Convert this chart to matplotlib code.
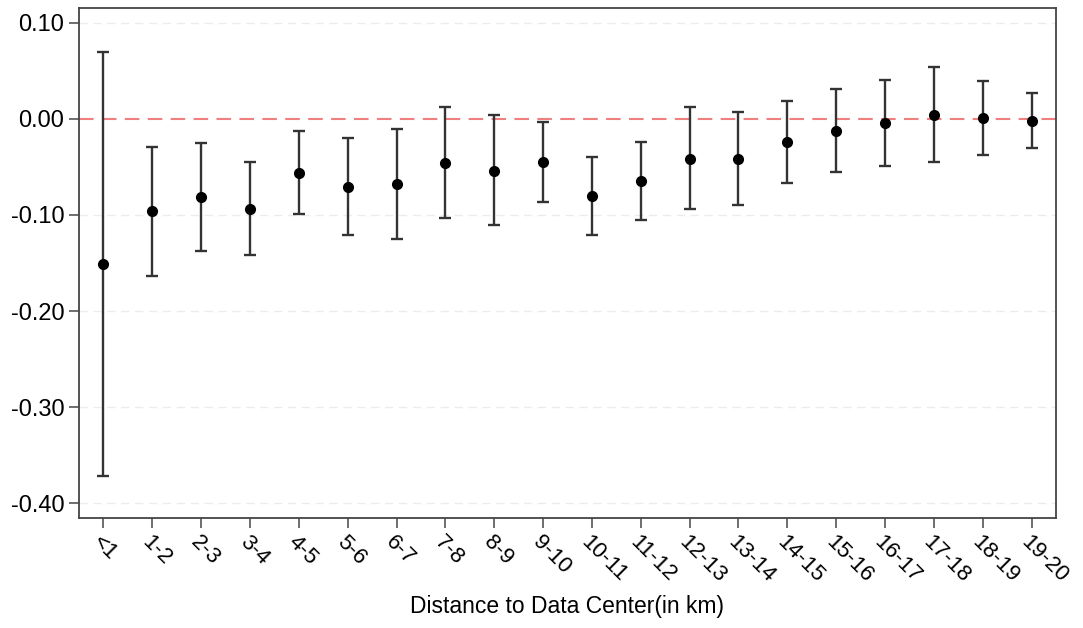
import numpy as np
import matplotlib.pyplot as plt

plt.rcParams['font.family'] = ['Liberation Sans', 'DejaVu Sans']

# Distance bins and estimates with confidence bounds
bins = ['<1', '1-2', '2-3', '3-4', '4-5', '5-6', '6-7', '7-8', '8-9', '9-10',
        '10-11', '11-12', '12-13', '13-14', '14-15', '15-16', '16-17', '17-18',
        '18-19', '19-20']
coef = [-0.151, -0.096, -0.081, -0.094, -0.056, -0.071, -0.068, -0.046, -0.054, -0.045,
        -0.080, -0.065, -0.042, -0.042, -0.024, -0.012, -0.004, 0.004, 0.001, -0.002]
upper = [0.070, -0.029, -0.025, -0.045, -0.0125, -0.020, -0.010, 0.0125, 0.004, -0.003,
         -0.040, -0.024, 0.0125, 0.007, 0.019, 0.031, 0.041, 0.054, 0.040, 0.027]
lower = [-0.372, -0.164, -0.138, -0.142, -0.099, -0.121, -0.125, -0.103, -0.110, -0.086,
         -0.121, -0.105, -0.094, -0.090, -0.067, -0.055, -0.049, -0.045, -0.037, -0.030]

yticks = [0.10, 0.00, -0.10, -0.20, -0.30, -0.40]
ytick_labels = ['0.10', '0.00', '-0.10', '-0.20', '-0.30', '-0.40']

x = np.arange(len(bins))
coef = np.array(coef)
err = np.vstack([coef - np.array(lower), np.array(upper) - coef])

fig = plt.figure(figsize=(10.83, 6.28), dpi=100)
ax = fig.add_axes([79 / 1083, 1 - 518 / 628, (1056 - 79) / 1083, (518 - 8) / 628])

for yv in yticks:
    if yv != 0:
        ax.axhline(yv, color='#ececec', lw=1, ls=(0, (6, 4)), zorder=0)
ax.axhline(0, color='#f08080', lw=1.5, ls=(0, (7, 4)), zorder=1)

ax.errorbar(x, coef, yerr=err, fmt='o', color='black', ms=7,
            ecolor='#333333', elinewidth=1.7, capsize=4, capthick=1.7, zorder=3)

ax.set_xlim(-0.5, len(bins) - 0.5)
ax.set_ylim(-0.4156, 0.1156)
ax.set_yticks(yticks)
ax.set_yticklabels(ytick_labels, fontsize=17)
ax.set_xticks(x)
ax.set_xticklabels(bins, fontsize=16, rotation=-45, ha='left', rotation_mode='anchor')
ax.tick_params(axis='both', direction='out', length=7, width=1.2, color='#555555')
ax.tick_params(axis='x', pad=3)
for s in ax.spines.values():
    s.set_color('#444444')
    s.set_linewidth(1.3)

ax.set_xlabel('Distance to Data Center(in km)', fontsize=16.5, labelpad=6)

fig.savefig('out.png', dpi=100)
